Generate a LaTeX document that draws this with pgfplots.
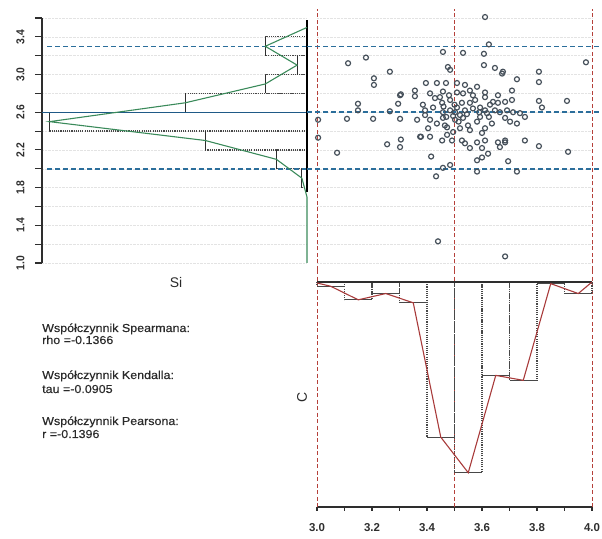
\documentclass[border=0pt]{standalone}
\usepackage{fontspec}
\setmainfont{Liberation Sans}
\newfontfamily\tickfont[FakeStretch=0.9]{Liberation Sans}
\newfontfamily\txtfont[FakeStretch=1.08, FakeBold=0.4]{Liberation Sans}
\usepackage{pgfplots}
\pgfplotsset{compat=1.18}

\definecolor{bluedash}{HTML}{2B6E9B}
\definecolor{bluesolid}{HTML}{1F5A87}
\definecolor{polygreen}{HTML}{3A8A5A}
\definecolor{polyred}{HTML}{A83A3A}
\definecolor{reddash}{HTML}{B5403A}
\definecolor{ptgray}{HTML}{46505A}
\definecolor{bargray}{HTML}{484848}
\definecolor{axgray}{HTML}{2E2E2E}
\definecolor{txtgray}{HTML}{2A2A2A}

\pgfplotsset{
  panel/.style={scale only axis, anchor=south west, clip=false,
    unbounded coords=jump, /pgf/number format/assume math mode=true},
  faintgrid/.style={grid style={gray!22, densely dotted, line width=0.5pt}},
  bluedashed/.style={bluedash, line width=1.5pt, dash pattern=on 5pt off 3pt},
  reddashed/.style={reddash, line width=0.9pt, dash pattern=on 4pt off 2.5pt},
  bardots/.style={bargray, line width=1.2pt, dash pattern=on 1.1pt off 1.1pt},
}

\begin{document}
\begin{tikzpicture}
\useasboundingbox (0,0) rectangle (602bp,539bp);

% --- Si histogram (bars grow to the left) ---
\begin{axis}[panel, at={(42bp,276bp)}, width=265bp, height=245bp,
  xmin=-88.33, xmax=0, ymin=1, ymax=3.6,
  axis x line=none, axis y line*=left,
  y axis line style={axgray, line width=1.2pt},
  ytick={1.0,1.4,1.8,2.2,2.6,3.0,3.4},
  minor ytick={1.2,1.6,2.0,2.4,2.8,3.2,3.6},
  tick align=outside, major tick length=7bp, minor tick length=7bp,
  tick style={axgray, line width=1.1pt},
  yticklabel style={rotate=90, anchor=south, yshift=7bp, font=\tickfont\bfseries\fontsize{11.5}{12}\selectfont, text=axgray},
  yticklabel style={/pgf/number format/.cd, fixed, fixed zerofill, precision=1},
  ymajorgrids, yminorgrids, faintgrid]
\addplot[bardots] coordinates {
  (0,3.4) (-13.9,3.4) (-13.9,3.2) (0,3.2) (nan,nan)
  (0,3.2) (-3.3,3.2) (-3.3,3.0) (0,3.0) (nan,nan)
  (0,3.0) (-13.9,3.0) (-13.9,2.8) (0,2.8) (nan,nan)
  (0,2.8) (-40.6,2.8) (-40.6,2.6) (0,2.6) (nan,nan)
  (0,2.6) (-85.8,2.6) (-85.8,2.4) (0,2.4) (nan,nan)
  (0,2.4) (-33.9,2.4) (-33.9,2.2) (0,2.2) (nan,nan)
  (0,2.2) (-10.2,2.2) (-10.2,2.0) (0,2.0) (nan,nan)
  (0,2.0) (-1.7,2.0) (-1.7,1.8) (0,1.8)
};
\addplot[axgray, line width=1.2pt] coordinates {
  (-13.9,3.4) (-13.9,3.2) (nan,nan) (-3.3,3.2) (-3.3,3.0) (nan,nan)
  (-13.9,3.0) (-13.9,2.8) (nan,nan) (-40.6,2.8) (-40.6,2.6) (nan,nan)
  (-85.8,2.6) (-85.8,2.4) (nan,nan) (-33.9,2.4) (-33.9,2.2) (nan,nan)
  (-10.2,2.2) (-10.2,2.0) (nan,nan) (-1.7,2.0) (-1.7,1.8)
};
\addplot[bluesolid, line width=1.4pt] coordinates {(-88.33,2.6) (0,2.6)};
\addplot[bluedashed] coordinates {(-86.6,2.0) (0,2.0)};
\addplot[bluedashed] coordinates {(-86.6,3.3) (0,3.3)};
\addplot[black, line width=1.3pt] coordinates {(0,1.75) (0,3.58)};
\addplot[polygreen, line width=1.1pt] coordinates {
  (0,3.5) (-13.9,3.3) (-3.3,3.1) (-13.9,2.9) (-40.6,2.7) (-85.8,2.5)
  (-33.9,2.3) (-10.2,2.1) (-1.7,1.9) (0,1.7) (0,1.0)
};
\end{axis}

% --- scatter ---
\begin{axis}[panel, at={(317bp,276bp)}, width=275bp, height=245bp,
  xmin=3, xmax=4, ymin=1, ymax=3.6,
  axis line style={draw=none}, xtick=\empty,
  ytick={1.0,1.2,1.4,1.6,1.8,2.0,2.2,2.4,2.6,2.8,3.0,3.2,3.4,3.6},
  yticklabels={}, major tick length=0pt,
  ymajorgrids, faintgrid]
\addplot[reddashed] coordinates {(3.0,0.93) (3.0,3.7)};
\addplot[reddashed] coordinates {(3.5,0.93) (3.5,3.7)};
\addplot[reddashed] coordinates {(4.0,0.93) (4.0,3.7)};
\addplot[bluedashed] coordinates {(2.964,2.0) (4.029,2.0)};
\addplot[bluedashed] coordinates {(2.964,2.6) (4.029,2.6)};
\addplot[bluedashed] coordinates {(2.964,3.3) (4.029,3.3)};
\addplot[only marks, mark=o, mark size=2.5bp, mark options={ptgray, line width=1.2pt}] table {
x y
3.611 3.61
3.625 3.32
3.458 3.24
3.531 3.23
3.607 3.22
3.113 3.12
3.178 3.18
3.978 3.13
3.476 3.08
3.484 3.05
3.607 3.10
3.647 3.07
3.676 3.03
3.265 3.03
3.807 3.03
3.207 2.96
3.207 2.89
3.727 2.95
3.807 2.92
3.356 2.83
3.356 2.77
3.302 2.78
3.149 2.69
3.149 2.62
3.295 2.69
3.909 2.72
3.807 2.72
3.818 2.65
3.004 2.52
3.109 2.53
3.204 2.53
3.265 2.61
3.302 2.53
3.004 2.33
3.073 2.17
3.255 2.26
3.305 2.31
3.302 2.23
3.378 2.34
3.415 2.13
3.433 1.92
3.458 2.01
3.484 2.04
3.582 1.97
3.582 2.09
3.600 2.12
3.622 2.16
3.695 2.08
3.727 1.97
3.756 2.30
3.807 2.24
3.913 2.18
3.658 2.28
3.684 2.28
3.440 1.23
3.684 1.07
3.305 2.79
3.396 2.91
3.436 2.91
3.469 2.91
3.509 2.91
3.538 2.89
3.582 2.87
3.611 2.81
3.658 2.78
3.673 3.01
3.411 2.80
3.429 2.75
3.458 2.82
3.480 2.78
3.509 2.81
3.531 2.80
3.556 2.83
3.567 2.78
3.611 2.76
3.640 2.71
3.658 2.70
3.684 2.71
3.709 2.73
3.709 2.83
3.385 2.68
3.393 2.62
3.393 2.57
3.422 2.65
3.455 2.70
3.458 2.60
3.484 2.62
3.509 2.65
3.527 2.70
3.556 2.70
3.567 2.64
3.593 2.65
3.611 2.62
3.618 2.59
3.647 2.62
3.665 2.60
3.691 2.62
3.713 2.60
3.738 2.59
3.756 2.55
3.364 2.52
3.411 2.52
3.436 2.48
3.458 2.54
3.473 2.44
3.502 2.52
3.531 2.54
3.549 2.46
3.582 2.50
3.593 2.55
3.611 2.43
3.636 2.48
3.684 2.54
3.702 2.50
3.727 2.48
3.404 2.43
3.375 2.34
3.411 2.34
3.455 2.30
3.473 2.36
3.491 2.30
3.495 2.39
3.527 2.30
3.538 2.27
3.556 2.22
3.582 2.28
3.600 2.38
3.611 2.30
3.600 2.22
3.665 2.23
3.684 2.30
3.502 2.60
3.520 2.57
3.538 2.62
3.484 2.73
3.447 2.76
3.575 2.73
3.629 2.68
3.465 2.46
3.556 2.41
3.520 2.43
3.495 2.56
3.545 2.58
3.515 2.50
3.470 2.55
3.590 2.60
3.625 2.55
3.500 2.68
3.460 2.66
};
\end{axis}

% --- C histogram (bars grow downward) ---
\begin{axis}[panel, at={(317bp,32bp)}, width=275bp, height=225bp,
  xmin=3, xmax=4, ymin=-68.18, ymax=0,
  axis y line=none, axis x line*=bottom,
  x axis line style={axgray, line width=1.2pt},
  xtick={3.0,3.2,3.4,3.6,3.8,4.0}, minor xtick={3.1,3.3,3.5,3.7,3.9},
  tick align=outside, major tick length=4bp, minor tick length=4bp,
  tick style={axgray, line width=1.1pt},
  xticklabel style={yshift=-9bp, font=\bfseries\fontsize{11.5}{12}\selectfont, text=axgray},
  xticklabel style={/pgf/number format/.cd, fixed, fixed zerofill, precision=1}]
\addplot[reddashed] coordinates {(3.0,3.6) (3.0,-68.18)};
\addplot[reddashed] coordinates {(3.5,3.6) (3.5,-68.18)};
\addplot[reddashed] coordinates {(4.0,3.6) (4.0,-68.18)};
\addplot[bardots] coordinates {
  (3.0,0) (3.0,-1.3) (3.1,-1.3) (3.1,0) (nan,nan)
  (3.1,0) (3.1,-5.4) (3.2,-5.4) (3.2,0) (nan,nan)
  (3.2,0) (3.2,-3.5) (3.3,-3.5) (3.3,0) (nan,nan)
  (3.3,0) (3.3,-6.3) (3.4,-6.3) (3.4,0) (nan,nan)
  (3.4,0) (3.4,-47) (3.5,-47) (3.5,0) (nan,nan)
  (3.5,0) (3.5,-57.8) (3.6,-57.8) (3.6,0) (nan,nan)
  (3.6,0) (3.6,-28.3) (3.7,-28.3) (3.7,0) (nan,nan)
  (3.7,0) (3.7,-29.8) (3.8,-29.8) (3.8,0) (nan,nan)
  (3.8,0) (3.8,-0.5) (3.9,-0.5) (3.9,0) (nan,nan)
  (3.9,0) (3.9,-3.5) (4.0,-3.5) (4.0,0)
};
\addplot[bargray, line width=1.1pt] coordinates {
  (3.0,-1.3) (3.1,-1.3) (nan,nan) (3.1,-5.4) (3.2,-5.4) (nan,nan)
  (3.2,-3.5) (3.3,-3.5) (nan,nan) (3.3,-6.3) (3.4,-6.3) (nan,nan)
  (3.4,-47) (3.5,-47) (nan,nan) (3.5,-57.8) (3.6,-57.8) (nan,nan)
  (3.6,-28.3) (3.7,-28.3) (nan,nan) (3.7,-29.8) (3.8,-29.8) (nan,nan)
  (3.8,-0.5) (3.9,-0.5) (nan,nan) (3.9,-3.5) (4.0,-3.5)
};
\addplot[axgray, line width=1.2pt] coordinates {(3.0,0) (4.0,0)};
\addplot[polyred, line width=1.1pt] coordinates {
  (3.0,-0.3) (3.05,-1.3) (3.15,-5.4) (3.25,-3.5) (3.35,-6.3) (3.45,-47)
  (3.55,-57.8) (3.65,-28.3) (3.75,-29.8) (3.85,-0.5) (3.95,-3.5) (4.0,0)
};
\end{axis}

\node[font=\fontsize{14}{16}\selectfont, text=txtgray] at (176bp,256bp) {Si};
\node[font=\fontsize{14}{16}\selectfont, text=txtgray, rotate=90] at (302bp,142bp) {C};
\begin{scope}[every node/.style={anchor=base west, inner sep=0pt, text=txtgray, font=\txtfont\fontsize{11.6}{13}\selectfont}]
\node at (42bp,207bp) {Współczynnik Spearmana:};
\node at (42bp,195bp) {rho =-0.1366};
\node at (42bp,160bp) {Współczynnik Kendalla:};
\node at (42bp,146bp) {tau =-0.0905};
\node at (42bp,114bp) {Współczynnik Pearsona:};
\node at (42bp,101bp) {r =-0.1396};
\end{scope}
\end{tikzpicture}
\end{document}
